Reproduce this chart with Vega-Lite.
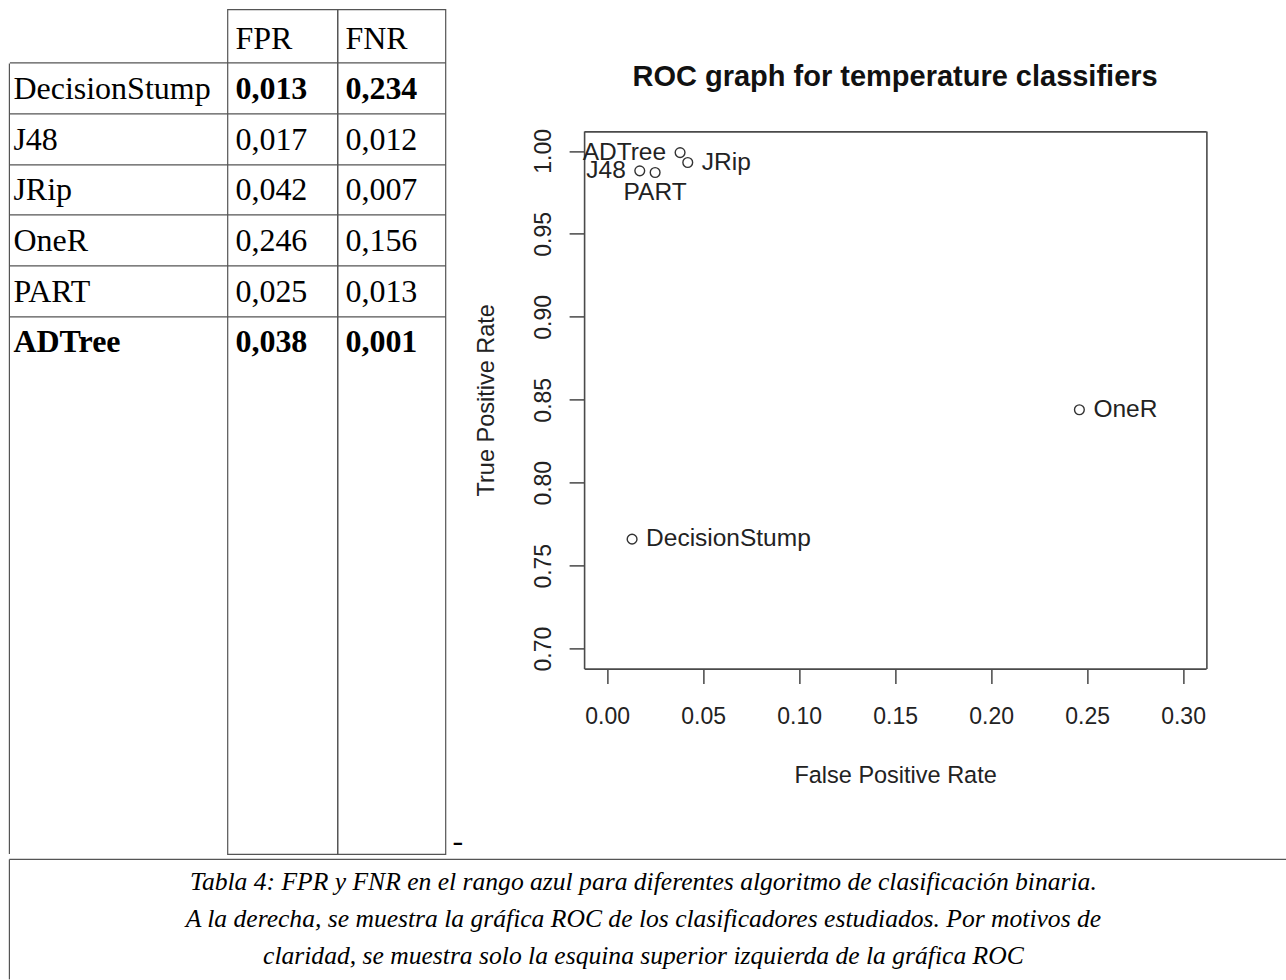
{
  "$schema": "https://vega.github.io/schema/vega-lite/v6.json",
  "background": "white",
  "padding": {"left": 8.4, "top": 8.4, "right": 0, "bottom": 0},
  "config": {"view": {"stroke": null}},
  "datasets": {
    "clasificadores": [
      {"clasificador": "DecisionStump", "FPR": 0.013, "FNR": 0.234, "TPR": 0.766},
      {"clasificador": "J48", "FPR": 0.017, "FNR": 0.012, "TPR": 0.988},
      {"clasificador": "JRip", "FPR": 0.042, "FNR": 0.007, "TPR": 0.993},
      {"clasificador": "OneR", "FPR": 0.246, "FNR": 0.156, "TPR": 0.844},
      {"clasificador": "PART", "FPR": 0.025, "FNR": 0.013, "TPR": 0.987},
      {"clasificador": "ADTree", "FPR": 0.038, "FNR": 0.001, "TPR": 0.999}
    ]
  },
  "spacing": 0,
  "vconcat": [
    {
      "bounds": "flush",
      "spacing": 0,
      "hconcat": [
        {
          "width": 218,
          "height": 844.7,
          "data": {"name": "clasificadores"},
          "encoding": {
            "y": {
              "field": "clasificador", "type": "nominal",
              "scale": {"type": "band", "domain": ["encabezado", "DecisionStump", "J48", "JRip", "OneR", "PART", "ADTree"], "range": [0, 361], "paddingInner": 0, "paddingOuter": 0.067},
              "axis": {"grid": true, "gridColor": "#555555", "gridWidth": 1.2, "gridOpacity": 1, "bandPosition": 0, "values": ["DecisionStump", "J48", "JRip", "OneR", "PART", "ADTree"], "labels": false, "ticks": false, "domain": false, "title": null, "minExtent": 0, "maxExtent": 0}
            }
          },
          "layer": [
            {
              "transform": [{"filter": "datum.clasificador !== 'ADTree'"}],
              "mark": {"type": "text", "align": "left", "baseline": "alphabetic", "dy": 10.5, "font": "Liberation Serif", "fontSize": 32, "color": "#000000"},
              "encoding": {"x": {"value": 4}, "text": {"field": "clasificador"}}
            },
            {
              "transform": [{"filter": "datum.clasificador === 'ADTree'"}],
              "mark": {"type": "text", "align": "left", "baseline": "alphabetic", "dy": 10.5, "font": "Liberation Serif", "fontSize": 32, "fontWeight": "bold", "color": "#000000"},
              "encoding": {"x": {"value": 4}, "text": {"field": "clasificador"}}
            },
            {
              "data": {"values": [{}]},
              "mark": {"type": "rule", "color": "#555555", "strokeWidth": 1.2},
              "encoding": {"x": {"value": 0}, "y": {"datum": "DecisionStump", "bandPosition": 0}, "y2": {"value": "height"}}
            }
          ]
        },
        {
          "width": 110,
          "height": 844.7,
          "view": {"stroke": "#555555", "strokeWidth": 1.2},
          "data": {"name": "clasificadores"},
          "transform": [{"calculate": "replace(format(datum.FPR, '.3f'), '.', ',')", "as": "valor"}],
          "encoding": {
            "y": {
              "field": "clasificador", "type": "nominal",
              "scale": {"type": "band", "domain": ["encabezado", "DecisionStump", "J48", "JRip", "OneR", "PART", "ADTree"], "range": [0, 361], "paddingInner": 0, "paddingOuter": 0.067},
              "axis": {"grid": true, "gridColor": "#555555", "gridWidth": 1.2, "gridOpacity": 1, "bandPosition": 0, "values": ["DecisionStump", "J48", "JRip", "OneR", "PART", "ADTree"], "labels": false, "ticks": false, "domain": false, "title": null, "minExtent": 0, "maxExtent": 0}
            }
          },
          "layer": [
            {
              "transform": [{"filter": {"field": "clasificador", "oneOf": ["J48", "JRip", "OneR", "PART"]}}],
              "mark": {"type": "text", "align": "left", "baseline": "alphabetic", "dy": 10.5, "font": "Liberation Serif", "fontSize": 32, "color": "#000000"},
              "encoding": {"x": {"value": 8}, "text": {"field": "valor"}}
            },
            {
              "transform": [{"filter": {"field": "clasificador", "oneOf": ["DecisionStump", "ADTree"]}}],
              "mark": {"type": "text", "align": "left", "baseline": "alphabetic", "dy": 10.5, "font": "Liberation Serif", "fontSize": 32, "fontWeight": "bold", "color": "#000000"},
              "encoding": {"x": {"value": 8}, "text": {"field": "valor"}}
            },
            {
              "data": {"values": [{}]},
              "mark": {"type": "text", "align": "left", "baseline": "alphabetic", "dy": 10.5, "font": "Liberation Serif", "fontSize": 32, "color": "#000000"},
              "encoding": {"x": {"value": 8}, "y": {"datum": "encabezado"}, "text": {"value": "FPR"}}
            }
          ]
        },
        {
          "width": 108,
          "height": 844.7,
          "view": {"stroke": "#555555", "strokeWidth": 1.2},
          "data": {"name": "clasificadores"},
          "transform": [{"calculate": "replace(format(datum.FNR, '.3f'), '.', ',')", "as": "valor"}],
          "encoding": {
            "y": {
              "field": "clasificador", "type": "nominal",
              "scale": {"type": "band", "domain": ["encabezado", "DecisionStump", "J48", "JRip", "OneR", "PART", "ADTree"], "range": [0, 361], "paddingInner": 0, "paddingOuter": 0.067},
              "axis": {"grid": true, "gridColor": "#555555", "gridWidth": 1.2, "gridOpacity": 1, "bandPosition": 0, "values": ["DecisionStump", "J48", "JRip", "OneR", "PART", "ADTree"], "labels": false, "ticks": false, "domain": false, "title": null, "minExtent": 0, "maxExtent": 0}
            }
          },
          "layer": [
            {
              "transform": [{"filter": {"field": "clasificador", "oneOf": ["J48", "JRip", "OneR", "PART"]}}],
              "mark": {"type": "text", "align": "left", "baseline": "alphabetic", "dy": 10.5, "font": "Liberation Serif", "fontSize": 32, "color": "#000000"},
              "encoding": {"x": {"value": 8}, "text": {"field": "valor"}}
            },
            {
              "transform": [{"filter": {"field": "clasificador", "oneOf": ["DecisionStump", "ADTree"]}}],
              "mark": {"type": "text", "align": "left", "baseline": "alphabetic", "dy": 10.5, "font": "Liberation Serif", "fontSize": 32, "fontWeight": "bold", "color": "#000000"},
              "encoding": {"x": {"value": 8}, "text": {"field": "valor"}}
            },
            {
              "data": {"values": [{}]},
              "mark": {"type": "text", "align": "left", "baseline": "alphabetic", "dy": 10.5, "font": "Liberation Serif", "fontSize": 32, "color": "#000000"},
              "encoding": {"x": {"value": 8}, "y": {"datum": "encabezado"}, "text": {"value": "FNR"}}
            },
            {
              "data": {"values": [{}]},
              "mark": {"type": "text", "align": "left", "baseline": "alphabetic", "dx": 7, "dy": -3, "font": "Liberation Serif", "fontSize": 32, "color": "#000000"},
              "encoding": {"x": {"value": "width"}, "y": {"value": "height"}, "text": {"value": "-"}}
            }
          ]
        },
        {
          "width": 841,
          "height": 780.8,
          "title": {
            "text": "ROC graph for temperature classifiers",
            "frame": "group", "anchor": "middle", "orient": "top",
            "offset": -106, "dx": 29.2, "baseline": "alphabetic",
            "font": "Liberation Sans", "fontSize": 29, "fontWeight": "bold", "color": "#111111"
          },
          "data": {"name": "clasificadores"},
          "encoding": {
            "x": {
              "field": "FPR", "type": "quantitative",
              "scale": {"domain": [-0.012, 0.312], "range": [138.7, 760.7], "nice": false, "zero": false},
              "axis": {
                "orient": "bottom", "offset": -121.6,
                "values": [0, 0.05, 0.1, 0.15, 0.2, 0.25, 0.3, 0.312],
                "labelExpr": "datum.value > 0.305 ? '' : format(datum.value, '.2f')",
                "domain": true, "domainColor": "#4a4a4a", "domainWidth": 1.6,
                "grid": true, "gridColor": "#4a4a4a", "gridWidth": 1.6,
                "gridOpacity": {"condition": {"test": "datum.value > 0.305", "value": 1}, "value": 0},
                "ticks": true, "tickSize": 15, "tickColor": "#3a3a3a", "tickWidth": 1.4,
                "tickOpacity": {"condition": {"test": "datum.value > 0.305", "value": 0}, "value": 1},
                "labelFont": "Liberation Sans", "labelFontSize": 23, "labelColor": "#222222",
                "labelBaseline": "middle", "labelPadding": 33, "labelFlush": false, "labelOverlap": false,
                "title": "False Positive Rate", "titleFont": "Liberation Sans", "titleFontSize": 23.5,
                "titleFontWeight": "normal", "titleColor": "#222222", "titleBaseline": "alphabetic", "titleY": 113.5,
                "minExtent": 0
              }
            },
            "y": {
              "field": "TPR", "type": "quantitative",
              "scale": {"domain": [0.688, 1.012], "range": [659.2, 121.6], "nice": false, "zero": false},
              "axis": {
                "orient": "left", "offset": -138.7,
                "values": [0.7, 0.75, 0.8, 0.85, 0.9, 0.95, 1.0, 1.012],
                "labelExpr": "datum.value > 1.005 ? '' : format(datum.value, '.2f')",
                "domain": true, "domainColor": "#4a4a4a", "domainWidth": 1.6,
                "grid": true, "gridColor": "#4a4a4a", "gridWidth": 1.6,
                "gridOpacity": {"condition": {"test": "datum.value > 1.005", "value": 1}, "value": 0},
                "ticks": true, "tickSize": 15, "tickColor": "#3a3a3a", "tickWidth": 1.4,
                "tickOpacity": {"condition": {"test": "datum.value > 1.005", "value": 0}, "value": 1},
                "labelFont": "Liberation Sans", "labelFontSize": 23, "labelColor": "#222222",
                "labelAngle": -90, "labelAlign": "center", "labelBaseline": "alphabetic",
                "labelPadding": 18.7, "labelFlush": false, "labelOverlap": false,
                "title": "True Positive Rate", "titleFont": "Liberation Sans", "titleFontSize": 23.5,
                "titleFontWeight": "normal", "titleColor": "#222222", "titleAngle": -90,
                "titleAlign": "center", "titleBaseline": "alphabetic", "titleX": -90.7,
                "minExtent": 0
              }
            }
          },
          "layer": [
            {
              "mark": {"type": "point", "shape": "circle", "filled": false, "size": 95, "color": "#333333", "strokeWidth": 1.4, "opacity": 1}
            },
            {
              "transform": [{"filter": {"field": "clasificador", "oneOf": ["JRip", "OneR", "DecisionStump"]}}],
              "mark": {"type": "text", "align": "left", "baseline": "middle", "dx": 14, "font": "Liberation Sans", "fontSize": 24.5, "color": "#222222"},
              "encoding": {"text": {"field": "clasificador"}}
            },
            {
              "transform": [{"filter": {"field": "clasificador", "oneOf": ["ADTree", "J48"]}}],
              "mark": {"type": "text", "align": "right", "baseline": "middle", "dx": -14, "font": "Liberation Sans", "fontSize": 24.5, "color": "#222222"},
              "encoding": {"text": {"field": "clasificador"}}
            },
            {
              "transform": [{"filter": {"field": "clasificador", "equal": "PART"}}],
              "mark": {"type": "text", "align": "center", "baseline": "middle", "dy": 21, "font": "Liberation Sans", "fontSize": 24.5, "color": "#222222"},
              "encoding": {"text": {"field": "clasificador"}}
            }
          ]
        }
      ]
    },
    {
      "width": 1277,
      "height": 120,
      "data": {
        "values": [
          {"linea": 1, "texto": "Tabla 4: FPR y FNR en el rango azul para diferentes algoritmo de clasificación binaria."},
          {"linea": 2, "texto": "A la derecha, se muestra la gráfica ROC de los clasificadores estudiados. Por motivos de"},
          {"linea": 3, "texto": "claridad, se muestra solo la esquina superior izquierda de la gráfica ROC"}
        ]
      },
      "layer": [
        {
          "mark": {"type": "text", "align": "center", "baseline": "alphabetic", "font": "Liberation Serif", "fontSize": 25.6, "fontStyle": "italic", "color": "#000000"},
          "encoding": {
            "x": {"value": 634},
            "y": {"field": "linea", "type": "ordinal", "scale": {"type": "point", "range": [30.5, 105], "padding": 0}, "axis": null},
            "text": {"field": "texto"}
          }
        },
        {
          "data": {"values": [{}]},
          "mark": {"type": "rule", "color": "#555555", "strokeWidth": 1.2},
          "encoding": {"x": {"value": 0}, "x2": {"value": "width"}, "y": {"value": 0}}
        },
        {
          "data": {"values": [{}]},
          "mark": {"type": "rule", "color": "#555555", "strokeWidth": 1.2},
          "encoding": {"x": {"value": 0}, "y": {"value": 0}, "y2": {"value": "height"}}
        }
      ]
    }
  ]
}
